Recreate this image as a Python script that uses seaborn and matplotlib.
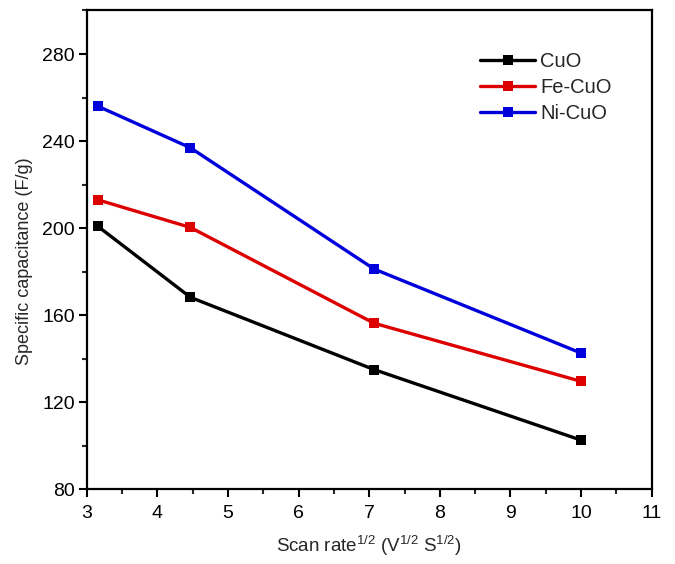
import numpy as np
import pandas as pd
import matplotlib
matplotlib.use("Agg")
import matplotlib.pyplot as plt
import seaborn as sns
from matplotlib.ticker import MultipleLocator

# Square root of scan rate (sqrt of 10, 20, 50, 100 mV/s)
scan_rate_sqrt = [3.16, 4.47, 7.07, 10.0]
samples = ["CuO", "Fe-CuO", "Ni-CuO"]
cuo = [200.8, 168.2, 135.0, 102.6]
fe_cuo = [213.0, 200.3, 156.3, 129.6]
ni_cuo = [256.0, 236.9, 181.2, 142.6]
colors = ["#000000", "#dd0000", "#0000dd"]

df = pd.DataFrame({
    "x": scan_rate_sqrt * 3,
    "y": cuo + fe_cuo + ni_cuo,
    "sample": [s for s in samples for _ in scan_rate_sqrt],
})

sns.set_theme(style="ticks")
plt.rcParams["font.family"] = ["Liberation Sans", "DejaVu Sans"]
plt.rcParams["mathtext.fontset"] = "custom"
plt.rcParams["mathtext.rm"] = "Liberation Sans"
plt.rcParams["mathtext.it"] = "Liberation Sans"

fig = plt.figure(figsize=(6.75, 5.64), dpi=100)
ax = fig.add_axes([0.1284, 0.1324, 0.8371, 0.849])

sns.lineplot(data=df, x="x", y="y", hue="sample", hue_order=samples,
             palette=colors, style="sample", markers=["s", "s", "s"],
             dashes=False, linewidth=2.4, markersize=6.5,
             markeredgewidth=0, ax=ax)

ax.set_xlim(3, 11)
ax.set_ylim(80, 300)
ax.xaxis.set_major_locator(MultipleLocator(1))
ax.xaxis.set_minor_locator(MultipleLocator(0.5))
ax.yaxis.set_major_locator(MultipleLocator(40))
ax.yaxis.set_minor_locator(MultipleLocator(20))
ax.set_yticks([80, 120, 160, 200, 240, 280])

for side in ["left", "right", "top", "bottom"]:
    ax.spines[side].set_visible(True)
    ax.spines[side].set_linewidth(1.6)
    ax.spines[side].set_color("black")

ax.tick_params(axis="both", which="major", direction="out", length=5.5,
               width=1.5, labelsize=14, colors="black")
ax.tick_params(axis="x", which="major", pad=6)
ax.tick_params(axis="y", which="major", pad=3)
ax.tick_params(axis="both", which="minor", direction="out", length=3.5,
               width=1.5)

ax.set_xlabel(r"Scan rate$^{\mathregular{1/2}}$ (V$^{\mathregular{1/2}}$ S$^{\mathregular{1/2}}$)",
              fontsize=13.5, labelpad=8)
ax.set_ylabel("Specific capacitance (F/g)", fontsize=13)
ax.yaxis.set_label_coords(-0.095, 0.476)

leg = ax.legend(loc="upper left", bbox_to_anchor=(0.696, 0.9125), frameon=False,
                fontsize=14.5, handlelength=2.75, labelspacing=0.35,
                handletextpad=0.25, borderpad=0, borderaxespad=0)

fig.savefig("out.png", dpi=100)
